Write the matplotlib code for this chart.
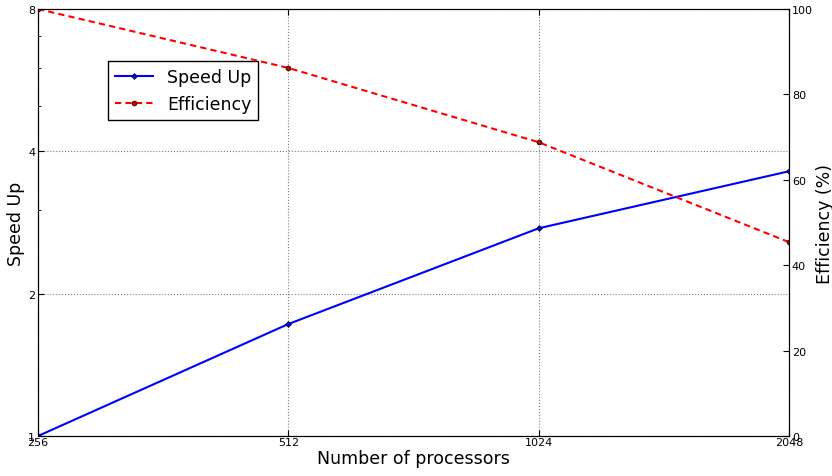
import matplotlib
matplotlib.use('Agg')
import matplotlib.pyplot as plt
from matplotlib import ticker

# data
procs = [256, 512, 1024, 2048]
speedup = [1.0, 1.725, 2.75, 3.63]
efficiency = [100.0, 86.2, 68.8, 45.4]

fig = plt.figure(figsize=(8.32, 4.77), dpi=100)
ax = fig.add_axes([38/832, 40/477, 751/832, 427/477])
ax2 = ax.twinx()

l1, = ax.plot(procs, speedup, color='blue', lw=1.5, marker='D', ms=3,
              mec='black', mew=0.5, label='Speed Up')
l2, = ax2.plot(procs, efficiency, color='red', lw=1.5, ls='--', dashes=(3, 2),
               marker='o', ms=3.5, mfc='#cc0000', mec='black', mew=0.5,
               label='Efficiency')

ax.set_xscale('log', base=2)
ax.set_yscale('log', base=2)
ax.set_xlim(256, 2048)
ax.set_ylim(1, 8)
ax2.set_ylim(0, 100)

ax.xaxis.set_major_locator(ticker.FixedLocator(procs))
ax.xaxis.set_major_formatter(ticker.FixedFormatter([str(p) for p in procs]))
ax.xaxis.set_minor_locator(ticker.NullLocator())
ax.yaxis.set_major_locator(ticker.FixedLocator([1, 2, 4, 8]))
ax.yaxis.set_major_formatter(ticker.FixedFormatter(['1', '2', '4', '8']))
ax.yaxis.set_minor_locator(ticker.FixedLocator([3, 5, 6, 7]))
ax.yaxis.set_minor_formatter(ticker.NullFormatter())
ax2.yaxis.set_major_locator(ticker.MultipleLocator(20))

for a in (ax, ax2):
    a.tick_params(which='both', direction='in', labelsize=8, pad=2)
    a.tick_params(which='major', length=4)
    a.tick_params(which='minor', length=2)
ax.tick_params(axis='x', top=True, pad=1)

ax.grid(True, which='major', color='gray', ls=':', lw=0.8)

ax.set_xlabel('Number of processors', fontsize=12.5, labelpad=1)
ax.set_ylabel('Speed Up', fontsize=12.5, labelpad=2)
ax2.set_ylabel('Efficiency (%)', fontsize=12.5, labelpad=2)

leg = ax.legend([l1, l2], ['Speed Up', 'Efficiency'], loc='upper left',
                bbox_to_anchor=(0.093, 0.878), fontsize=12.5, fancybox=False,
                borderaxespad=0, handlelength=2.2, framealpha=1)
leg.get_frame().set_edgecolor('black')

plt.savefig('out.png', dpi=100)
